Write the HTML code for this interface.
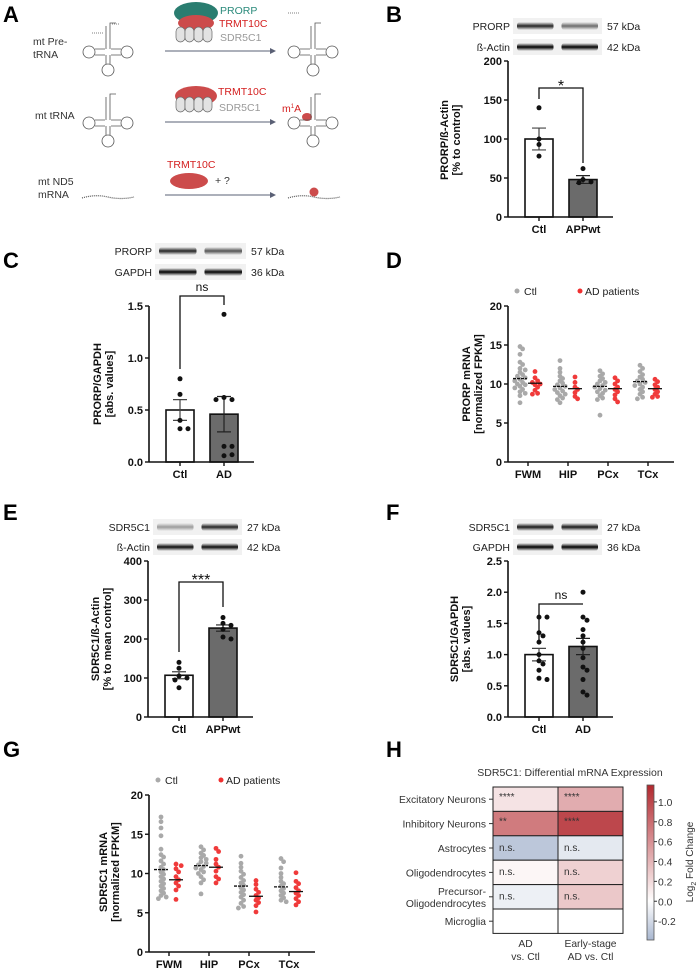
<!DOCTYPE html>
<html><head><meta charset="utf-8">
<style>
html,body{margin:0;padding:0;background:#fff;}
svg{display:block;font-family:"Liberation Sans",Arial,sans-serif;}
.t{font-size:11px;font-weight:bold;fill:#111;}
.pl{font-size:22px;font-weight:bold;fill:#000;}
.sm{font-size:10.5px;fill:#333;}
</style></head>
<body>
<svg id="fig" width="700" height="972" viewBox="0 0 700 972" xmlns="http://www.w3.org/2000/svg">
<defs>
<linearGradient id="bandg" x1="0" y1="0" x2="0" y2="1"><stop offset="0" stop-color="#000" stop-opacity="0"/><stop offset="0.5" stop-color="#000" stop-opacity="1"/><stop offset="1" stop-color="#000" stop-opacity="0"/></linearGradient>
<marker id="arr" markerWidth="6" markerHeight="6" refX="5" refY="3" orient="auto"><path d="M0,0 L6,3 L0,6 z" fill="#5a6075"/></marker>
</defs>
<text class="pl" x="3" y="22">A</text>
<text class="pl" x="386" y="22">B</text>
<text class="pl" x="3" y="268">C</text>
<text class="pl" x="386" y="268">D</text>
<text class="pl" x="3" y="520">E</text>
<text class="pl" x="386" y="520">F</text>
<text class="pl" x="3" y="757">G</text>
<text class="pl" x="386" y="757">H</text>

<g id="panelA">
<text class="sm" x="33" y="45">mt Pre-</text>
<text class="sm" x="33" y="58">tRNA</text>
<text class="sm" x="35" y="119">mt tRNA</text>
<text class="sm" x="38" y="185">mt ND5</text>
<text class="sm" x="38" y="198">mRNA</text>
<line x1="165" y1="51" x2="275" y2="51" stroke="#5a6075" stroke-width="1" marker-end="url(#arr)"/>
<line x1="165" y1="122" x2="275" y2="122" stroke="#5a6075" stroke-width="1" marker-end="url(#arr)"/>
<line x1="165" y1="195" x2="275" y2="195" stroke="#5a6075" stroke-width="1" marker-end="url(#arr)"/>
<g>
<ellipse cx="196" cy="13" rx="22" ry="11" fill="#2a7d70"/>
<ellipse cx="196" cy="23" rx="18" ry="8" fill="#cc4b4b"/>
<rect x="176" y="27" width="9" height="15" rx="4.5" fill="#e2e2e2" stroke="#666" stroke-width="0.7"/>
<rect x="185" y="27" width="9" height="15" rx="4.5" fill="#e2e2e2" stroke="#666" stroke-width="0.7"/>
<rect x="194" y="27" width="9" height="15" rx="4.5" fill="#e2e2e2" stroke="#666" stroke-width="0.7"/>
<rect x="203" y="27" width="9" height="15" rx="4.5" fill="#e2e2e2" stroke="#666" stroke-width="0.7"/>
</g>
<text x="220" y="14" font-size="10.5" fill="#2a8a7b">PRORP</text>
<text x="219" y="27" font-size="10.5" fill="#d42020">TRMT10C</text>
<text x="220" y="41" font-size="10.5" fill="#999">SDR5C1</text>
<g>
<ellipse cx="196" cy="96" rx="21" ry="10" fill="#cc4b4b"/>
<rect x="176" y="97" width="9" height="15" rx="4.5" fill="#e2e2e2" stroke="#666" stroke-width="0.7"/>
<rect x="185" y="97" width="9" height="15" rx="4.5" fill="#e2e2e2" stroke="#666" stroke-width="0.7"/>
<rect x="194" y="97" width="9" height="15" rx="4.5" fill="#e2e2e2" stroke="#666" stroke-width="0.7"/>
<rect x="203" y="97" width="9" height="15" rx="4.5" fill="#e2e2e2" stroke="#666" stroke-width="0.7"/>
</g>
<text x="218" y="95" font-size="10.5" fill="#d42020">TRMT10C</text>
<text x="219" y="111" font-size="10.5" fill="#999">SDR5C1</text>
<text x="167" y="168" font-size="10.5" fill="#d42020">TRMT10C</text>
<ellipse cx="189" cy="181" rx="19" ry="8" fill="#cc4b4b"/>
<text x="215" y="184" font-size="10.5" fill="#333">+   ?</text>
<text x="282" y="112" font-size="10.5" fill="#d42020">m<tspan font-size="6" dy="-4">1</tspan><tspan dy="4">A</tspan></text>
<ellipse cx="307" cy="117" rx="5" ry="4" fill="#cc4b4b"/>
<path d="M82,198 q13,-4 26,-1 t26,0" fill="none" stroke="#555" stroke-width="1.2" stroke-dasharray="1 1"/>
<path d="M288,198 q13,-4 26,-1 t26,0" fill="none" stroke="#555" stroke-width="1.2" stroke-dasharray="1 1"/>
<circle cx="314" cy="192" r="4.5" fill="#cc4b4b"/>
</g>

<g class="t">
<text transform="translate(448,140) rotate(-90)" text-anchor="middle">PRORP/ß-Actin</text>
<text transform="translate(460,140) rotate(-90)" text-anchor="middle">[% to control]</text>
<text transform="translate(101,384) rotate(-90)" text-anchor="middle">PRORP/GAPDH</text>
<text transform="translate(113,384) rotate(-90)" text-anchor="middle">[abs. values]</text>
<text transform="translate(470,384) rotate(-90)" text-anchor="middle">PRORP mRNA</text>
<text transform="translate(482,384) rotate(-90)" text-anchor="middle">[normalized FPKM]</text>
<text transform="translate(99,639) rotate(-90)" text-anchor="middle">SDR5C1/ß-Actin</text>
<text transform="translate(111,639) rotate(-90)" text-anchor="middle">[% to mean control]</text>
<text transform="translate(458,639) rotate(-90)" text-anchor="middle">SDR5C1/GAPDH</text>
<text transform="translate(470,639) rotate(-90)" text-anchor="middle">[abs. values]</text>
<text transform="translate(107,872) rotate(-90)" text-anchor="middle">SDR5C1 mRNA</text>
<text transform="translate(119,872) rotate(-90)" text-anchor="middle">[normalized FPKM]</text>
</g>
<g id="dyn"></g>
</svg>
<script>
// ---------- DATA ----------
const B_groups = ['Ctl','APPwt'];
const B_pts_1 = [140,100,93,78];
const B_pts_2 = [62,48,45,44];
const B_means = [100,48];
const B_sem = [14,5];
const B_ticks = [0,50,100,150,200];

const C_groups = ['Ctl','AD'];
const C_pts_1 = [0.8,0.65,0.4,0.32,0.32];
const C_pts_2 = [1.42,0.62,0.6,0.6,0.15,0.15,0.06,0.07];
const C_means = [0.5,0.46];
const C_sem = [0.1,0.17];
const C_ticks = [0,0.5,1.0,1.5];

const E_groups = ['Ctl','APPwt'];
const E_pts_1 = [140,125,105,100,95,75];
const E_pts_2 = [255,240,235,225,205,200];
const E_means = [107,228];
const E_sem = [9,8];
const E_ticks = [0,100,200,300,400];

const F_groups = ['Ctl','AD'];
const F_pts_1 = [1.6,1.6,1.35,1.3,1.2,1.0,0.9,0.85,0.75,0.62,0.6];
const F_pts_2 = [2.0,1.6,1.55,1.4,1.3,1.2,1.1,0.95,0.8,0.75,0.6,0.4,0.35];
const F_means = [1.0,1.13];
const F_sem = [0.1,0.13];
const F_ticks = [0,0.5,1.0,1.5,2.0,2.5];

const regions = ['FWM','HIP','PCx','TCx'];
const D_ctl = [
 [14.8,14.5,13.8,12.8,12.5,12,11.8,11.5,11.2,11,10.8,10.6,10.4,10.2,10,9.9,9.7,9.5,9.3,9.0,8.8,8.5,7.6],
 [13,12,11.5,11,10.7,10.4,10.1,9.9,9.7,9.5,9.3,9.1,8.9,8.7,8.5,8.2,8,7.6],
 [11.7,11.3,11,10.7,10.4,10.2,10,9.8,9.6,9.4,9.2,9,8.8,8.5,8.2,8,6],
 [12.4,12,11.6,11.2,10.9,10.6,10.4,10.2,10,9.8,9.6,9.3,9,8.7,8.3,8.1]];
const D_ad = [
 [11.6,10.8,10.4,10.2,10,9.9,9.6,9.2,8.8,8.7],
 [10.9,10.2,9.6,9.3,8.9,8.4,8.1],
 [10.8,10.4,10,9.6,9.3,9,8.6,8.1,7.7],
 [10.6,10.3,9.9,9.6,9.3,9,8.7,8.4,8.3]];
const D_mean_ctl = [10.7,9.7,9.7,10.3];
const D_mean_ad = [10.1,9.4,9.4,9.4];
const G_ctl = [
 [17.2,16.6,15.8,14.8,13.1,12.4,12.1,11.6,11.2,10.8,10.5,10.2,9.9,9.6,9.3,9,8.7,8.4,8.1,7.8,7.5,7.2,7,6.8],
 [13.4,13,12.6,12.3,12,11.8,11.5,11.3,11.1,10.9,10.7,10.5,10.2,10,9.6,9.2,8.8,7.4],
 [12.2,11.3,10.8,10.3,9.9,9.5,9.1,8.8,8.5,8.2,7.9,7.6,7.3,7,6.6,6.2,5.8,5.6],
 [11.9,11.5,10.7,10,9.5,9,8.7,8.4,8.1,7.8,7.5,7.2,6.9,6.6,6.4]];
const G_ad = [
 [11.2,11,10.6,10.2,9.6,9.2,8.8,8.4,7.9,6.7],
 [13.2,12.8,11.8,11.2,10.8,10.3,9.6,9.3,8.8],
 [9.1,8.6,8,7.6,7.2,6.9,6.6,6.3,5.9,5.1],
 [10.1,9,8.7,8.2,7.8,7.5,7.2,6.8,6.4,6]];
const G_mean_ctl = [10.5,11.0,8.4,8.3];
const G_mean_ad = [9.2,10.8,7.1,7.7];
const mrna_ticks = [0,5,10,15,20];

const H_rows = ['Excitatory Neurons','Inhibitory Neurons','Astrocytes','Oligodendrocytes','Precursor-|Oligodendrocytes','Microglia'];
const H_cols = ['AD|vs. Ctl','Early-stage|AD vs. Ctl'];
const H_vals_ad = [0.15,0.72,-0.3,0.05,-0.08,0];
const H_vals_early = [0.45,1.0,-0.12,0.25,0.3,0];
const H_sig_ad = ['****','**','n.s.','n.s.','n.s.',''];
const H_sig_early = ['****','****','n.s.','n.s.','n.s.',''];
const H_cbar_ticks = [-0.2,0.0,0.2,0.4,0.6,0.8,1.0];

// ---------- HELPERS ----------
const NS='http://www.w3.org/2000/svg';
const root=document.getElementById('dyn');
function mk(tag,attrs,parent){const e=document.createElementNS(NS,tag);for(const k in attrs)e.setAttribute(k,attrs[k]);(parent||root).appendChild(e);return e;}
function swarm(ys,cx,r,dist,step){const placed=[];const out=[];
 ys.forEach(y=>{let off=0,k=0;while(true){const x=cx+off;if(k>12||!placed.some(p=>Math.hypot(p[0]-x,p[1]-y)<dist)){placed.push([x,y]);out.push(x);break;}k++;off=(k%2?1:-1)*Math.ceil(k/2)*step;}});return out;}
function fmt(v,dec){return dec?v.toFixed(1):String(v);}

function yAxis(g,ax,y,ticks,dec,name){
 const l=mk('line',{x1:ax,x2:ax,y1:y(ticks[ticks.length-1]),y2:y(0),stroke:'#111','stroke-width':1.6},g);
 
 
 ticks.forEach(t=>{
  const tl=mk('line',{x1:ax-4,x2:ax,y1:y(t),y2:y(t),stroke:'#111','stroke-width':1.4},g);
  
  
  const tx=mk('text',{x:ax-6,y:y(t)+4,'text-anchor':'end',class:'t'},g);tx.textContent=fmt(t,dec);
  
  
 });
}
function blot(g,x1,x2,yc,intens){
 const bg=mk('rect',{x:x1,y:yc-8,width:x2-x1,height:16,fill:'#f1f1f1'},g);
 
 
 const w=(x2-x1)/2;
 intens.forEach((a,i)=>{
  const b=mk('rect',{x:x1+i*w+4,y:yc-4,width:w-8,height:8,rx:3,fill:'url(#bandg)',opacity:a},g);
  
  
 });
}
function barPanel(o){
 const g=mk('g',{});
 
 
 const top=o.ticks[o.ticks.length-1];
 const y=v=>o.y0-(v/top)*(o.y0-o.yTop);
 o.blots.forEach(b=>{
  const lt=mk('text',{x:o.bx1-3,y:b.y+4,'text-anchor':'end','font-size':10.5,fill:'#222'},g);lt.textContent=b.label;
  
  
  blot(g,o.bx1,o.bx2,b.y,b.int);
  const kt=mk('text',{x:o.bx2+5,y:b.y+4,'font-size':10.5,fill:'#222'},g);kt.textContent=b.kda;
  
  
 });
 const cxs=[o.ax+31,o.ax+75];
 const pts=[o.p1,o.p2];
 o.means.forEach((m,i)=>{
  const r=mk('rect',{x:cxs[i]-14,y:y(m),width:28,height:o.y0-y(m),fill:i?'#6b6b6b':'#fff',stroke:'#111','stroke-width':1.6},g);
  
  
  const s=o.sem[i];
  const e=mk('path',{d:`M${cxs[i]},${y(m-s)}V${y(m+s)}M${cxs[i]-7},${y(m+s)}H${cxs[i]+7}M${cxs[i]-7},${y(m-s)}H${cxs[i]+7}`,stroke:i?'#222':'#444','stroke-width':1.2,fill:'none'},g);
  
  
  const ys=pts[i].map(v=>y(v));const xs=swarm(ys,cxs[i],2.5,4.75,4);
  ys.forEach((yy,j)=>{
   const c=mk('circle',{cx:xs[j],cy:yy,r:2.5,fill:'#111'},g);
   
   
  });
  const lb=mk('text',{x:cxs[i],y:o.y0+16,'text-anchor':'middle',class:'t','font-size':12},g);lb.textContent=o.groups[i];
  
  
  const xt=mk('line',{x1:cxs[i],x2:cxs[i],y1:o.y0,y2:o.y0+4,stroke:'#111','stroke-width':1.4},g);
  
  
 });
 yAxis(g,o.ax,y,o.ticks,o.dec,o.name);
 const xa=mk('line',{x1:o.ax,x2:o.ax+105,y1:o.y0,y2:o.y0,stroke:'#111','stroke-width':1.6},g);
 
 
 const br=mk('path',{d:`M${cxs[0]},${o.brL}V${o.brTop}H${cxs[1]}V${o.brR}`,fill:'none',stroke:'#111','stroke-width':1.3},g);
 
 
 const st=mk('text',{x:(cxs[0]+cxs[1])/2,y:o.brTop-(o.sig==='ns'?5:-3),'text-anchor':'middle','font-size':o.sig==='ns'?12:16,fill:'#111'},g);st.textContent=o.sig;
 
 
}

barPanel({name:'panel-b-chart',groups:B_groups,p1:B_pts_1,p2:B_pts_2,means:B_means,sem:B_sem,ticks:B_ticks,dec:false,ax:508,yTop:61,y0:217,bx1:513,bx2:602,
 blots:[{label:'PRORP',y:26,int:[0.85,0.55],kda:'57 kDa'},{label:'ß-Actin',y:47,int:[1,1],kda:'42 kDa'}],brTop:88,brL:99,brR:163,sig:'*'});
barPanel({name:'panel-c-chart',groups:C_groups,p1:C_pts_1,p2:C_pts_2,means:C_means,sem:C_sem,ticks:C_ticks,dec:true,ax:149,yTop:306,y0:462,bx1:155,bx2:246,
 blots:[{label:'PRORP',y:251,int:[0.85,0.65],kda:'57 kDa'},{label:'GAPDH',y:272,int:[1,1],kda:'36 kDa'}],brTop:296,brL:369,brR:305,sig:'ns'});
barPanel({name:'panel-e-chart',groups:E_groups,p1:E_pts_1,p2:E_pts_2,means:E_means,sem:E_sem,ticks:E_ticks,dec:false,ax:148,yTop:561,y0:717,bx1:153,bx2:242,
 blots:[{label:'SDR5C1',y:527,int:[0.35,0.85],kda:'27 kDa'},{label:'ß-Actin',y:547,int:[0.95,0.95],kda:'42 kDa'}],brTop:582,brL:652,brR:607,sig:'***'});
barPanel({name:'panel-f-chart',groups:F_groups,p1:F_pts_1,p2:F_pts_2,means:F_means,sem:F_sem,ticks:F_ticks,dec:true,ax:508,yTop:561,y0:717,bx1:513,bx2:602,
 blots:[{label:'SDR5C1',y:527,int:[0.9,0.9],kda:'27 kDa'},{label:'GAPDH',y:547,int:[1,1],kda:'36 kDa'}],brTop:604,brL:640,brR:604,sig:'ns'});

function scatterPanel(o){
 const g=mk('g',{});
 
 
 const y=v=>o.y0-(v/20)*(o.y0-o.yTop);
 const c1=mk('circle',{cx:o.ax+9,cy:o.legY-3,r:2.5,fill:'#aaa'},g);
 
 
 const l1=mk('text',{x:o.ax+16,y:o.legY+1,'font-size':10.5,fill:'#222'},g);l1.textContent='Ctl';
 
 
 const c2=mk('circle',{cx:o.ax+72,cy:o.legY-3,r:2.5,fill:'#f03030'},g);
 
 
 const l2=mk('text',{x:o.ax+77,y:o.legY+1,'font-size':10.5,fill:'#222'},g);l2.textContent='AD patients';
 
 
 regions.forEach((rg,i)=>{
  const base=o.ax+12+i*40;
  [[o.ctl[i],o.mc[i],base,'#a9a9a9'],[o.ad[i],o.ma[i],base+15,'#f03a3a']].forEach((s,k)=>{
   const ys=s[0].map(v=>y(v));const xs=swarm(ys,s[2],2.3,3.2,2.6);
   ys.forEach((yy,j)=>{
    const c=mk('circle',{cx:xs[j],cy:yy,r:2.4,fill:s[3]},g);
    
    
   });
   const m=mk('line',{x1:s[2]-7,x2:s[2]+7,y1:y(s[1]),y2:y(s[1]),stroke:'#111','stroke-width':1.3,'stroke-dasharray':k?'':'3 1'},g);
   
   
  });
  const lb=mk('text',{x:base+8,y:o.y0+16,'text-anchor':'middle',class:'t','font-size':12},g);lb.textContent=rg;
  
  
  const xt=mk('line',{x1:base+8,x2:base+8,y1:o.y0,y2:o.y0+4,stroke:'#111','stroke-width':1.4},g);
  
  
 });
 yAxis(g,o.ax,y,mrna_ticks,false,o.name);
 const xa=mk('line',{x1:o.ax,x2:o.ax+166,y1:o.y0,y2:o.y0,stroke:'#111','stroke-width':1.6},g);
 
 
}
scatterPanel({name:'panel-d-chart',ctl:D_ctl,ad:D_ad,mc:D_mean_ctl,ma:D_mean_ad,ax:508,yTop:306,y0:462,legY:294});
scatterPanel({name:'panel-g-chart',ctl:G_ctl,ad:G_ad,mc:G_mean_ctl,ma:G_mean_ad,ax:149,yTop:795,y0:952,legY:783});

(function(){
 const g=mk('g',{});
 
 
 const vmax=1.17,vmin=-0.39;
 function col(v){let c0=[255,255,255],c1;let t;if(v>=0){c1=[178,40,46];t=v/vmax;}else{c1=[168,182,207];t=v/vmin;}
  t=Math.max(0,Math.min(1,t));return 'rgb('+c0.map((a,i)=>Math.round(a+(c1[i]-a)*t)).join(',')+')';}
 const x0=493,cw=65,y0=787,rh=24.4;
 const ti=mk('text',{x:570,y:776,'text-anchor':'middle','font-size':10.5,fill:'#333'},g);ti.textContent='SDR5C1: Differential mRNA Expression';
 
 
 const cols=[H_vals_ad,H_vals_early],sigs=[H_sig_ad,H_sig_early];
 H_rows.forEach((rn,r)=>{
  cols.forEach((vals,c)=>{
   const cell=mk('rect',{x:x0+c*cw,y:y0+r*rh,width:cw,height:rh,fill:col(vals[r]),stroke:'#222','stroke-width':1},g);
   
   
   const st=mk('text',{x:x0+c*cw+6,y:y0+r*rh+(sigs[c][r].startsWith('*')?13:15),'font-size':10,fill:'#333'},g);st.textContent=sigs[c][r];
   
   
  });
  const parts=rn.split('|');
  parts.forEach((p,k)=>{
   const t=mk('text',{x:486,y:y0+r*rh+rh/2+4+(k-(parts.length-1)/2)*12,'text-anchor':'end','font-size':10.3,fill:'#333'},g);t.textContent=p;
   
   
  });
  const tk=mk('line',{x1:489,x2:493,y1:y0+r*rh+rh/2,y2:y0+r*rh+rh/2,stroke:'#333'},g);
  
  
 });
 H_cols.forEach((cn,c)=>{
  cn.split('|').forEach((p,k)=>{
   const t=mk('text',{x:x0+c*cw+cw/2,y:947+k*13,'text-anchor':'middle','font-size':10.3,fill:'#333'},g);t.textContent=p;
   
   
  });
 });
 const top=785,bot=940;const cy=v=>top+(vmax-v)/(vmax-vmin)*(bot-top);
 const defs=document.querySelector('defs');
 const lg=document.createElementNS(NS,'linearGradient');lg.setAttribute('id','cbar');lg.setAttribute('x1','0');lg.setAttribute('y1','0');lg.setAttribute('x2','0');lg.setAttribute('y2','1');
 for(let i=0;i<=20;i++){const v=vmax-(vmax-vmin)*i/20;const s=document.createElementNS(NS,'stop');s.setAttribute('offset',i/20);s.setAttribute('stop-color',col(v));lg.appendChild(s);}
 defs.appendChild(lg);
 const cb=mk('rect',{x:647,y:top,width:7,height:bot-top,fill:'url(#cbar)',stroke:'#555','stroke-width':0.8},g);
 
 
 H_cbar_ticks.forEach(t=>{
  const l=mk('line',{x1:654,x2:657,y1:cy(t),y2:cy(t),stroke:'#333'},g);
  
  
  const tx=mk('text',{x:658,y:cy(t)+4,'font-size':10.3,fill:'#333'},g);tx.textContent=t.toFixed(1);
  
  
 });
 const lab=mk('text',{transform:'translate(693,862) rotate(-90)','text-anchor':'middle','font-size':10,fill:'#333'},g);
 lab.innerHTML='Log<tspan font-size="7" dy="3">2</tspan><tspan dy="-3"> Fold Change</tspan>';
 
 
})();

function trna(cx,cy,name){
 const g=mk('g',{fill:'none',stroke:'#555','stroke-width':0.8});
 
 
 mk('path',{d:`M${cx-2},${cy-3}V${cy-26}M${cx+2},${cy-3}V${cy-26}M${cx-2},${cy+3}V${cy+12}M${cx+2},${cy+3}V${cy+12}M${cx-3},${cy-3}H${cx-13}M${cx-3},${cy+3}H${cx-13}M${cx+3},${cy-3}H${cx+13}M${cx+3},${cy+3}H${cx+13}`},g);
 mk('circle',{cx:cx-19,cy:cy,r:6},g);
 mk('circle',{cx:cx+19,cy:cy,r:6},g);
 mk('circle',{cx:cx,cy:cy+18,r:6},g);
 mk('path',{d:`M${cx-2},${cy-26}H${cx-2}M${cx+2},${cy-26}v-3h6`},g);
}
trna(108,52,'pre-trna-left');
trna(108,123,'trna-left');
trna(313,52,'trna-processed');
trna(313,123,'trna-methylated');
mk('path',{d:'M92,33h12',stroke:'#555','stroke-dasharray':'1 1','stroke-width':0.8,fill:'none'});
mk('path',{d:'M112,24h8',stroke:'#555','stroke-dasharray':'1 1','stroke-width':0.8,fill:'none'});
mk('path',{d:'M288,13h12',stroke:'#555','stroke-dasharray':'1 1','stroke-width':0.8,fill:'none'});
</script>
</body></html>
